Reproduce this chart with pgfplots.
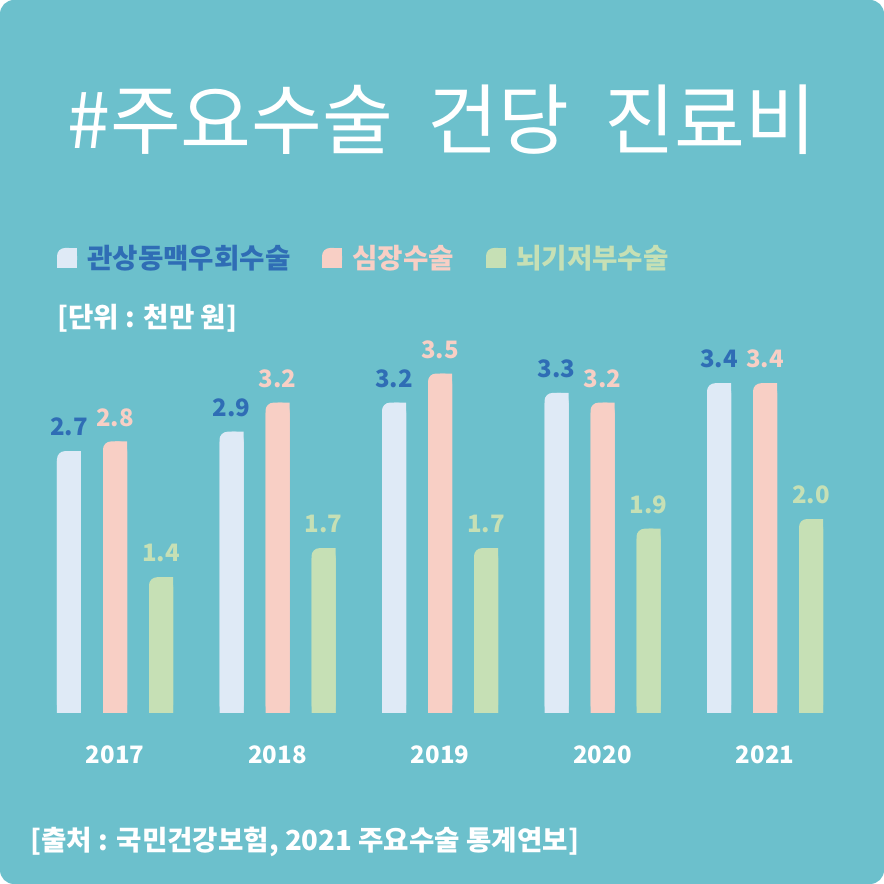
\documentclass[border=0pt]{standalone}
\usepackage{pgfplots}
\pgfplotsset{compat=1.18}
\usepackage{pgfplotstable}
\usepackage{fontspec}
\setmainfont{Noto Sans CJK KR}
\newfontfamily\kr{Noto Sans CJK KR}
\definecolor{bgTeal}   {HTML}{6CC0CC}
\definecolor{cabgBar}  {HTML}{DFEAF6}
\definecolor{cabgText} {HTML}{2F6DB5}
\definecolor{heartBar} {HTML}{F8CFC5}
\definecolor{brainBar} {HTML}{C6E0B5}

% 건당 진료비 (천만 원)
\pgfplotstableread{
x  cabg heart brain
0  2.7  2.8   1.4
1  2.9  3.2   1.7
2  3.2  3.5   1.7
3  3.3  3.2   1.9
4  3.4  3.4   2.0
}\costs

\tikzset{
  valtxt/.style={font=\kr\bfseries\fontsize{12pt}{14pt}\selectfont},
  labtxt/.style={font=\kr\bfseries\fontsize{13.8pt}{16pt}\selectfont},
}

\begin{document}
\begin{tikzpicture}[x=0.5pt,y=0.5pt]
\fill[white] (0,0) rectangle (884,884);
\fill[bgTeal, rounded corners=7pt] (0,0) rectangle (884,884);

% title
\node[text=white, font=\kr\fontsize{38.5pt}{46pt}\selectfont] at (442,764) {\#주요수술\ \ 건당\ \ 진료비};

% legend
\foreach \x/\c/\t/\tc in {57/cabgBar/관상동맥우회수술/cabgText, 322/heartBar/심장수술/heartBar, 486/brainBar/뇌기저부수술/brainBar}{
  \fill[\c, rounded corners=4pt] (\x,616) rectangle ++(20,20);
  \fill[\c] (\x+10,616) rectangle ++(10,20);
  \fill[\c] (\x,616) rectangle ++(20,10);
  \node[anchor=west, inner sep=0pt, text=\tc, labtxt] at (\x+30,626) {\t};
}
\node[anchor=west, inner sep=0pt, text=white, labtxt] at (57,566) {[단위 : 천만 원]};

\begin{axis}[
  at={(8.75pt,85.5pt)}, anchor=south west,
  scale only axis, width=422.5pt, height=194pt,
  xmin=-0.6, xmax=4.6, ymin=0, ymax=4,
  ybar, bar width=12pt,
  axis line style={draw=none},
  major tick length=0pt,
  ytick=\empty,
  xtick={0,1,2,3,4},
  xticklabels={\mbox{2017},\mbox{2018},\mbox{2019},\mbox{2020},\mbox{2021}},
  xticklabel style={text=white, font=\kr\bfseries\fontsize{12pt}{14pt}\selectfont, yshift=-13pt},
  /pgf/number format/assume math mode=true,
  /pgf/number format/.cd, fixed, fixed zerofill, precision=1, /pgfplots/.cd,
  every node near coord/.append style={valtxt, yshift=4pt},
]
% rounded bar, then square fillers: right half and lower part
\addplot[fill=cabgBar, draw=none, rounded corners=4pt, bar shift=-23pt,
  nodes near coords, every node near coord/.append style={text=cabgText}]
  table[x=x, y=cabg] {\costs};
\addplot[fill=cabgBar, draw=none, bar width=6pt, bar shift=-20pt] table[x=x, y=cabg] {\costs};
\addplot[fill=cabgBar, draw=none, bar shift=-23pt, yshift=-5pt] table[x=x, y=cabg] {\costs};
\addplot[fill=heartBar, draw=none, rounded corners=4pt, bar shift=0pt,
  nodes near coords, every node near coord/.append style={text=heartBar}]
  table[x=x, y=heart] {\costs};
\addplot[fill=heartBar, draw=none, bar width=6pt, bar shift=3pt] table[x=x, y=heart] {\costs};
\addplot[fill=heartBar, draw=none, bar shift=0pt, yshift=-5pt] table[x=x, y=heart] {\costs};
\addplot[fill=brainBar, draw=none, rounded corners=4pt, bar shift=23pt,
  nodes near coords, every node near coord/.append style={text=brainBar}]
  table[x=x, y=brain] {\costs};
\addplot[fill=brainBar, draw=none, bar width=6pt, bar shift=26pt] table[x=x, y=brain] {\costs};
\addplot[fill=brainBar, draw=none, bar shift=23pt, yshift=-5pt] table[x=x, y=brain] {\costs};
\end{axis}

\node[anchor=west, inner sep=0pt, text=white, labtxt] at (30,42) {[출처 : 국민건강보험, 2021 주요수술 통계연보]};
\end{tikzpicture}
\end{document}
